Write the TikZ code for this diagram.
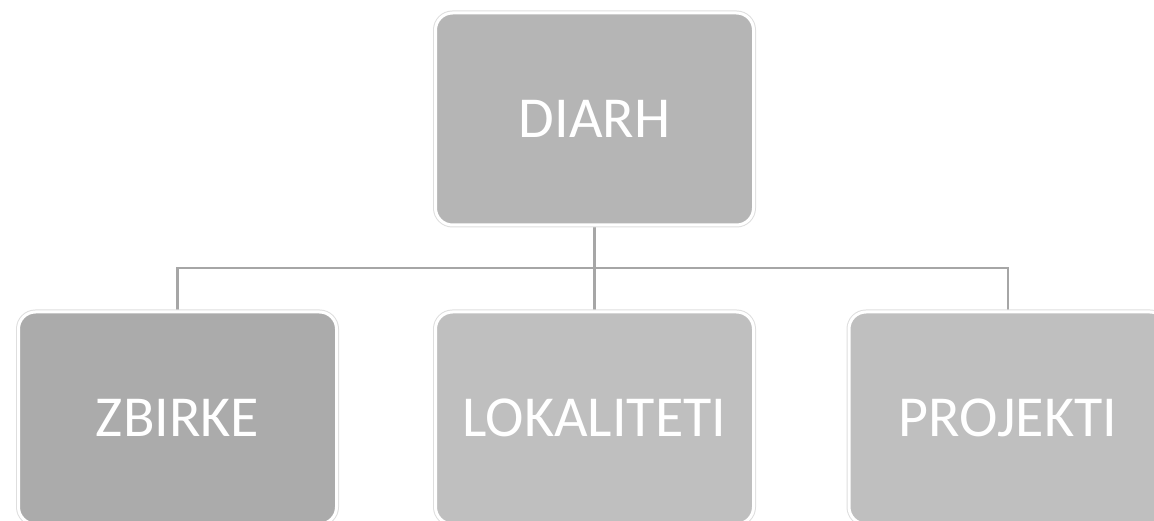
\documentclass[tikz,border=0pt]{standalone}
\usepackage{fontspec}
\setmainfont{Carlito}
\usetikzlibrary{backgrounds}

\tikzset{
  box/.style={rectangle, rounded corners=17pt, minimum width=318pt, minimum height=212pt,
    text=white, font=\fontsize{58}{62}\selectfont, draw=white, line width=3pt,
    preaction={draw=black!13, line width=5pt}},
  conn/.style={draw=black!35, line width=2.8pt}
}

\begin{document}
\begin{tikzpicture}[x=1pt,y=-1pt]
      \useasboundingbox (0,0) rectangle (1154,521);

      \node[box, fill=black!29] (diarh) at (594.5,119) {DIARH};

      \node[box, fill=black!33] (zbirke) at (177.5,418) {ZBIRKE};
      \node[box, fill=black!25] (lokaliteti) at (594.5,418) {LOKALITETI};
      \node[box, fill=black!25] (projekti) at (1008,418) {PROJEKTI};

      \coordinate (hub) at (594.5,268);

      \begin{scope}[on background layer]
        \draw[conn] (diarh.south) -- (lokaliteti.north);
        \draw[conn] (zbirke.north) |- (hub) -| (projekti.north);
      \end{scope}
    \end{tikzpicture}
\end{document}
